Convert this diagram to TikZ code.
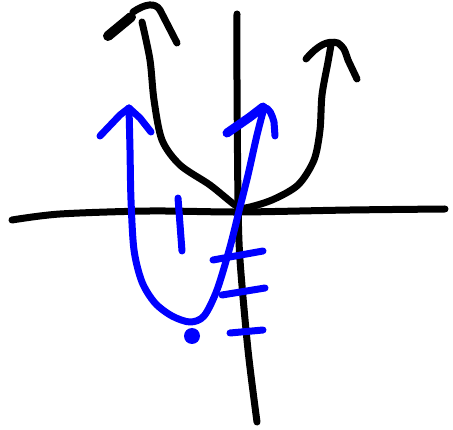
\documentclass[tikz,border=0pt]{standalone}
\begin{document}
\begin{tikzpicture}[x=1pt,y=-1pt,line cap=round,line join=round,
  ink/.style={line width=7pt,black},
  blueink/.style={line width=7pt,blue}]
\useasboundingbox (0,0) rectangle (453,430);
% axes
\draw[ink] plot[smooth] coordinates {(12,220) (60,214) (150,211) (240,212) (350,210) (445,209)};
\draw[ink] plot[smooth] coordinates {(237,14) (237,80) (238,200) (240,260) (248,350) (257,422)};
% black parabola
\draw[ink] plot[smooth] coordinates {(142,22) (150,60) (154,100) (162,140) (180,165) (210,185) (235,205) (245,208) (272,200) (298,185) (314,160) (320,130) (322,95) (328,62) (331,45)};
\draw[ink] (133,12) .. controls (145,4) and (155,2) .. (160,10) -- (177,43);
\draw[line width=10pt,black] (108,36) -- (131,17);
\draw[ink] (306,59) .. controls (318,45) and (328,40) .. (338,43) .. controls (344,48) .. (348,60) -- (357,79);
% blue parabola
\draw[blueink] plot[smooth] coordinates {(129,108) (130,150) (131,200) (134,250) (142,282) (155,303) (172,316) (190,322) (204,316) (217,290) (230,247) (240,207) (248,175) (257,135) (264,108)};
\draw[blueink] (100,136) -- (120,115) -- (129,108) -- (140,118) -- (151,132);
\draw[line width=9pt,blue] (227,133) -- (250,117) -- (263,107);
\draw[blueink] (263,107) .. controls (270,108) and (272,115) .. (274,122) -- (275,136);
% blue dot
\fill[blue] (192,336) circle (8);
% blue ticks
\draw[blueink] (178,198) -- (182,251);
\draw[blueink] (213,260) -- (263,251);
\draw[blueink] (222,295) -- (265,288);
\draw[blueink] (230,333) -- (263,330);
\end{tikzpicture}
\end{document}
